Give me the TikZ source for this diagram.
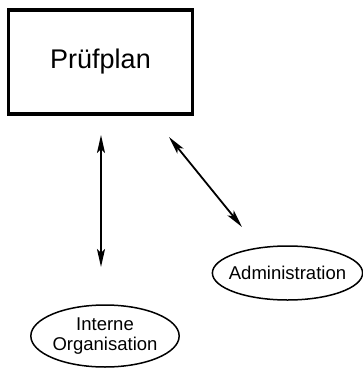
\documentclass[tikz,border=0pt]{standalone}
\usepackage{fontspec}
\setmainfont{Liberation Sans}
\usetikzlibrary{shapes.geometric,arrows.meta}
\begin{document}
\begin{tikzpicture}[x=1pt,y=-1pt,
  plan/.style={draw,line width=3.2pt,minimum width=184pt,minimum height=104pt,font=\fontsize{27}{30}\selectfont},
  oval/.style={draw,ellipse,line width=1.5pt,inner ysep=0pt,font=\fontsize{18.5}{20}\selectfont,align=center},
  link/.style={line width=1.8pt,{Stealth[length=18pt,width=8pt,inset=4pt]}-{Stealth[length=18pt,width=8pt,inset=4pt]}}]
\useasboundingbox (0,0) rectangle (363,368);
\node[plan] (p) at (100.5,62) {Prüfplan};
\node[oval,inner xsep=-5.5pt,minimum height=54pt] (a) at (287.5,273) {Administration};
\node[oval,inner xsep=0pt,minimum height=62pt] (i) at (105,336) {Interne\\Organisation};
\coordinate (v1) at (101,135);
\coordinate (v2) at (101,267);
\coordinate (d1) at (169,137);
\coordinate (d2) at (242,227);
\draw[link] (v1) -- (v2);
\draw[link] (d1) -- (d2);
\end{tikzpicture}
\end{document}
